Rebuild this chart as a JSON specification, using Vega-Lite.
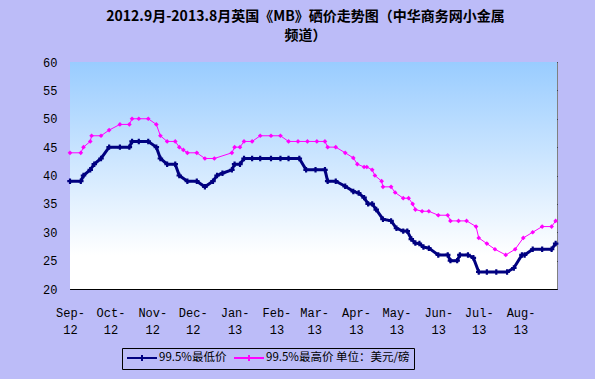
{
  "$schema": "https://vega.github.io/schema/vega-lite/v6.json",
  "width": 487,
  "height": 227,
  "autosize": "none",
  "padding": {"left": 70, "top": 62, "right": 38, "bottom": 90},
  "background": "#BCBCF8",
  "title": {
    "text": ["2012.9月-2013.8月英国《MB》硒价走势图（中华商务网小金属", "频道）"],
    "font": "Noto Sans CJK SC",
    "fontSize": 14,
    "fontWeight": "bold",
    "color": "black",
    "anchor": "middle",
    "frame": "group",
    "dx": -8,
    "offset": 13,
    "lineHeight": 19
  },
  "config": {
    "view": {"stroke": "#808080", "strokeWidth": 1},
    "axis": {"labelColor": "black", "domainColor": "black", "tickColor": "black", "labelFont": "Liberation Mono", "labelFontSize": 12, "title": null},
    "axisY": {"ticks": false, "grid": true, "gridColor": "black", "gridOpacity": 1, "gridWidth": 1, "labelPadding": 13}
  },
  "data": {
    "values": [
      {"date": "2012-09-01", "series": "99.5%最低价", "price": 39},
      {"date": "2012-09-09", "series": "99.5%最低价", "price": 39},
      {"date": "2012-09-11", "series": "99.5%最低价", "price": 40},
      {"date": "2012-09-16", "series": "99.5%最低价", "price": 41},
      {"date": "2012-09-19", "series": "99.5%最低价", "price": 42},
      {"date": "2012-09-24", "series": "99.5%最低价", "price": 43},
      {"date": "2012-09-30", "series": "99.5%最低价", "price": 45},
      {"date": "2012-10-08", "series": "99.5%最低价", "price": 45},
      {"date": "2012-10-15", "series": "99.5%最低价", "price": 45},
      {"date": "2012-10-17", "series": "99.5%最低价", "price": 46},
      {"date": "2012-10-22", "series": "99.5%最低价", "price": 46},
      {"date": "2012-10-29", "series": "99.5%最低价", "price": 46},
      {"date": "2012-11-04", "series": "99.5%最低价", "price": 45},
      {"date": "2012-11-07", "series": "99.5%最低价", "price": 43},
      {"date": "2012-11-12", "series": "99.5%最低价", "price": 42},
      {"date": "2012-11-18", "series": "99.5%最低价", "price": 42},
      {"date": "2012-11-21", "series": "99.5%最低价", "price": 40},
      {"date": "2012-11-27", "series": "99.5%最低价", "price": 39},
      {"date": "2012-12-04", "series": "99.5%最低价", "price": 39},
      {"date": "2012-12-10", "series": "99.5%最低价", "price": 38},
      {"date": "2012-12-16", "series": "99.5%最低价", "price": 39},
      {"date": "2012-12-19", "series": "99.5%最低价", "price": 40},
      {"date": "2012-12-23", "series": "99.5%最低价", "price": 40.4},
      {"date": "2012-12-30", "series": "99.5%最低价", "price": 41},
      {"date": "2013-01-01", "series": "99.5%最低价", "price": 42},
      {"date": "2013-01-05", "series": "99.5%最低价", "price": 42},
      {"date": "2013-01-08", "series": "99.5%最低价", "price": 43},
      {"date": "2013-01-14", "series": "99.5%最低价", "price": 43},
      {"date": "2013-01-20", "series": "99.5%最低价", "price": 43},
      {"date": "2013-01-28", "series": "99.5%最低价", "price": 43},
      {"date": "2013-02-04", "series": "99.5%最低价", "price": 43},
      {"date": "2013-02-10", "series": "99.5%最低价", "price": 43},
      {"date": "2013-02-18", "series": "99.5%最低价", "price": 43},
      {"date": "2013-02-23", "series": "99.5%最低价", "price": 41},
      {"date": "2013-03-02", "series": "99.5%最低价", "price": 41},
      {"date": "2013-03-09", "series": "99.5%最低价", "price": 41},
      {"date": "2013-03-11", "series": "99.5%最低价", "price": 39},
      {"date": "2013-03-17", "series": "99.5%最低价", "price": 39},
      {"date": "2013-03-24", "series": "99.5%最低价", "price": 38.1},
      {"date": "2013-03-30", "series": "99.5%最低价", "price": 37.2},
      {"date": "2013-04-03", "series": "99.5%最低价", "price": 36.9},
      {"date": "2013-04-07", "series": "99.5%最低价", "price": 36.1},
      {"date": "2013-04-10", "series": "99.5%最低价", "price": 35},
      {"date": "2013-04-13", "series": "99.5%最低价", "price": 35},
      {"date": "2013-04-16", "series": "99.5%最低价", "price": 34},
      {"date": "2013-04-21", "series": "99.5%最低价", "price": 32.3},
      {"date": "2013-04-27", "series": "99.5%最低价", "price": 32},
      {"date": "2013-05-01", "series": "99.5%最低价", "price": 30.7},
      {"date": "2013-05-06", "series": "99.5%最低价", "price": 30.2},
      {"date": "2013-05-09", "series": "99.5%最低价", "price": 30.2},
      {"date": "2013-05-12", "series": "99.5%最低价", "price": 28.8},
      {"date": "2013-05-15", "series": "99.5%最低价", "price": 28.1},
      {"date": "2013-05-18", "series": "99.5%最低价", "price": 28},
      {"date": "2013-05-21", "series": "99.5%最低价", "price": 27.4},
      {"date": "2013-05-25", "series": "99.5%最低价", "price": 27.2},
      {"date": "2013-06-01", "series": "99.5%最低价", "price": 26},
      {"date": "2013-06-08", "series": "99.5%最低价", "price": 26},
      {"date": "2013-06-10", "series": "99.5%最低价", "price": 25},
      {"date": "2013-06-15", "series": "99.5%最低价", "price": 25},
      {"date": "2013-06-17", "series": "99.5%最低价", "price": 26},
      {"date": "2013-06-23", "series": "99.5%最低价", "price": 26},
      {"date": "2013-06-27", "series": "99.5%最低价", "price": 25.5},
      {"date": "2013-07-01", "series": "99.5%最低价", "price": 23},
      {"date": "2013-07-07", "series": "99.5%最低价", "price": 23},
      {"date": "2013-07-14", "series": "99.5%最低价", "price": 23},
      {"date": "2013-07-22", "series": "99.5%最低价", "price": 23},
      {"date": "2013-07-27", "series": "99.5%最低价", "price": 23.7},
      {"date": "2013-08-02", "series": "99.5%最低价", "price": 26},
      {"date": "2013-08-04", "series": "99.5%最低价", "price": 26},
      {"date": "2013-08-10", "series": "99.5%最低价", "price": 27},
      {"date": "2013-08-17", "series": "99.5%最低价", "price": 27},
      {"date": "2013-08-24", "series": "99.5%最低价", "price": 27},
      {"date": "2013-08-27", "series": "99.5%最低价", "price": 28},
      {"date": "2012-09-01", "series": "99.5%最高价 单位：美元/磅", "price": 44},
      {"date": "2012-09-09", "series": "99.5%最高价 单位：美元/磅", "price": 44},
      {"date": "2012-09-11", "series": "99.5%最高价 单位：美元/磅", "price": 45},
      {"date": "2012-09-16", "series": "99.5%最高价 单位：美元/磅", "price": 46},
      {"date": "2012-09-17", "series": "99.5%最高价 单位：美元/磅", "price": 47},
      {"date": "2012-09-24", "series": "99.5%最高价 单位：美元/磅", "price": 47},
      {"date": "2012-09-30", "series": "99.5%最高价 单位：美元/磅", "price": 48},
      {"date": "2012-10-08", "series": "99.5%最高价 单位：美元/磅", "price": 49},
      {"date": "2012-10-15", "series": "99.5%最高价 单位：美元/磅", "price": 49},
      {"date": "2012-10-17", "series": "99.5%最高价 单位：美元/磅", "price": 50},
      {"date": "2012-10-22", "series": "99.5%最高价 单位：美元/磅", "price": 50},
      {"date": "2012-10-29", "series": "99.5%最高价 单位：美元/磅", "price": 50},
      {"date": "2012-11-04", "series": "99.5%最高价 单位：美元/磅", "price": 49},
      {"date": "2012-11-07", "series": "99.5%最高价 单位：美元/磅", "price": 47},
      {"date": "2012-11-12", "series": "99.5%最高价 单位：美元/磅", "price": 46},
      {"date": "2012-11-18", "series": "99.5%最高价 单位：美元/磅", "price": 46},
      {"date": "2012-11-21", "series": "99.5%最高价 单位：美元/磅", "price": 45},
      {"date": "2012-11-24", "series": "99.5%最高价 单位：美元/磅", "price": 44.5},
      {"date": "2012-11-27", "series": "99.5%最高价 单位：美元/磅", "price": 44},
      {"date": "2012-12-04", "series": "99.5%最高价 单位：美元/磅", "price": 44},
      {"date": "2012-12-10", "series": "99.5%最高价 单位：美元/磅", "price": 43},
      {"date": "2012-12-17", "series": "99.5%最高价 单位：美元/磅", "price": 43},
      {"date": "2012-12-30", "series": "99.5%最高价 单位：美元/磅", "price": 44},
      {"date": "2013-01-01", "series": "99.5%最高价 单位：美元/磅", "price": 45},
      {"date": "2013-01-05", "series": "99.5%最高价 单位：美元/磅", "price": 45},
      {"date": "2013-01-08", "series": "99.5%最高价 单位：美元/磅", "price": 46},
      {"date": "2013-01-14", "series": "99.5%最高价 单位：美元/磅", "price": 46},
      {"date": "2013-01-20", "series": "99.5%最高价 单位：美元/磅", "price": 47},
      {"date": "2013-01-28", "series": "99.5%最高价 单位：美元/磅", "price": 47},
      {"date": "2013-02-04", "series": "99.5%最高价 单位：美元/磅", "price": 47},
      {"date": "2013-02-10", "series": "99.5%最高价 单位：美元/磅", "price": 46},
      {"date": "2013-02-17", "series": "99.5%最高价 单位：美元/磅", "price": 46},
      {"date": "2013-02-24", "series": "99.5%最高价 单位：美元/磅", "price": 46},
      {"date": "2013-03-03", "series": "99.5%最高价 单位：美元/磅", "price": 46},
      {"date": "2013-03-09", "series": "99.5%最高价 单位：美元/磅", "price": 46},
      {"date": "2013-03-11", "series": "99.5%最高价 单位：美元/磅", "price": 45},
      {"date": "2013-03-17", "series": "99.5%最高价 单位：美元/磅", "price": 45},
      {"date": "2013-03-24", "series": "99.5%最高价 单位：美元/磅", "price": 44},
      {"date": "2013-03-30", "series": "99.5%最高价 单位：美元/磅", "price": 43.1},
      {"date": "2013-04-02", "series": "99.5%最高价 单位：美元/磅", "price": 42},
      {"date": "2013-04-07", "series": "99.5%最高价 单位：美元/磅", "price": 41.5},
      {"date": "2013-04-09", "series": "99.5%最高价 单位：美元/磅", "price": 41.5},
      {"date": "2013-04-13", "series": "99.5%最高价 单位：美元/磅", "price": 41},
      {"date": "2013-04-15", "series": "99.5%最高价 单位：美元/磅", "price": 40},
      {"date": "2013-04-20", "series": "99.5%最高价 单位：美元/磅", "price": 39},
      {"date": "2013-04-21", "series": "99.5%最高价 单位：美元/磅", "price": 38},
      {"date": "2013-04-27", "series": "99.5%最高价 单位：美元/磅", "price": 38},
      {"date": "2013-04-30", "series": "99.5%最高价 单位：美元/磅", "price": 37},
      {"date": "2013-05-06", "series": "99.5%最高价 单位：美元/磅", "price": 36},
      {"date": "2013-05-10", "series": "99.5%最高价 单位：美元/磅", "price": 36},
      {"date": "2013-05-13", "series": "99.5%最高价 单位：美元/磅", "price": 35},
      {"date": "2013-05-15", "series": "99.5%最高价 单位：美元/磅", "price": 34},
      {"date": "2013-05-20", "series": "99.5%最高价 单位：美元/磅", "price": 33.7},
      {"date": "2013-05-25", "series": "99.5%最高价 单位：美元/磅", "price": 33.7},
      {"date": "2013-06-01", "series": "99.5%最高价 单位：美元/磅", "price": 33},
      {"date": "2013-06-08", "series": "99.5%最高价 单位：美元/磅", "price": 33},
      {"date": "2013-06-10", "series": "99.5%最高价 单位：美元/磅", "price": 32},
      {"date": "2013-06-16", "series": "99.5%最高价 单位：美元/磅", "price": 32},
      {"date": "2013-06-22", "series": "99.5%最高价 单位：美元/磅", "price": 32},
      {"date": "2013-06-29", "series": "99.5%最高价 单位：美元/磅", "price": 31},
      {"date": "2013-07-01", "series": "99.5%最高价 单位：美元/磅", "price": 29},
      {"date": "2013-07-07", "series": "99.5%最高价 单位：美元/磅", "price": 28},
      {"date": "2013-07-13", "series": "99.5%最高价 单位：美元/磅", "price": 27},
      {"date": "2013-07-21", "series": "99.5%最高价 单位：美元/磅", "price": 26},
      {"date": "2013-07-28", "series": "99.5%最高价 单位：美元/磅", "price": 27},
      {"date": "2013-08-03", "series": "99.5%最高价 单位：美元/磅", "price": 29},
      {"date": "2013-08-10", "series": "99.5%最高价 单位：美元/磅", "price": 30},
      {"date": "2013-08-17", "series": "99.5%最高价 单位：美元/磅", "price": 31},
      {"date": "2013-08-24", "series": "99.5%最高价 单位：美元/磅", "price": 31},
      {"date": "2013-08-27", "series": "99.5%最高价 单位：美元/磅", "price": 32}
    ]
  },
  "layer": [
    {
      "data": {"values": [{"k": 1}]},
      "mark": {
        "type": "rect",
        "fill": {"gradient": "linear", "x1": 0, "y1": 0, "x2": 0, "y2": 1, "stops": [{"offset": 0, "color": "#99CCFF"}, {"offset": 0.85, "color": "#FFFFFF"}, {"offset": 1, "color": "#FFFFFF"}]}
      },
      "encoding": {
        "x": {
          "datum": {"year": 2012, "month": 9, "date": 1, "utc": true},
          "type": "temporal",
          "scale": {"type": "utc", "domain": [{"year": 2012, "month": 9, "date": 1, "utc": true}, {"year": 2013, "month": 8, "date": 28, "utc": true}]},
          "axis": {
            "tickCount": {"interval": "month", "step": 1},
            "labelExpr": "[utcFormat(datum.value, '%b-'), utcFormat(datum.value, '%y')]",
            "labelAlign": "center",
            "labelBaseline": "top",
            "labelLineHeight": 17,
            "labelPadding": 22,
            "tickSize": -4,
            "grid": false,
            "labelOverlap": false,
            "labelFlush": false
          }
        },
        "x2": {"datum": {"year": 2013, "month": 8, "date": 28, "utc": true}},
        "y": {
          "datum": 60,
          "type": "quantitative",
          "scale": {"domain": [20, 60], "nice": false, "zero": false},
          "axis": {"values": [20, 25, 30, 35, 40, 45, 50, 55, 60], "labelOverlap": false}
        },
        "y2": {"datum": 20}
      }
    },
    {
      "transform": [{"filter": "datum.series === '99.5%最高价 单位：美元/磅'"}],
      "mark": {"type": "line", "strokeWidth": 1},
      "encoding": {
        "x": {"field": "date", "type": "temporal"},
        "y": {"field": "price", "type": "quantitative", "axis": {"values": [20, 25, 30, 35, 40, 45, 50, 55, 60], "labelOverlap": false}},
        "color": {
          "field": "series",
          "type": "nominal",
          "scale": {"domain": ["99.5%最低价", "99.5%最高价 单位：美元/磅"], "range": ["#000080", "#FF00FF"]},
          "legend": {
            "title": null,
            "orient": "none",
            "legendX": 52,
            "legendY": 286,
            "direction": "horizontal",
            "strokeColor": "black",
            "padding": 4,
            "symbolType": "M-1,0H5M2,-0.6V0.6",
            "symbolSize": 100,
            "symbolStrokeWidth": 2,
            "labelOffset": 21,
            "columnPadding": 3,
            "labelFont": "Noto Sans CJK SC",
            "labelFontSize": 11.5,
            "labelColor": "black",
            "labelLimit": 300
          }
        }
      }
    },
    {
      "transform": [{"filter": "datum.series === '99.5%最高价 单位：美元/磅'"}],
      "mark": {"type": "point", "shape": "diamond", "filled": true, "size": 22, "opacity": 1},
      "encoding": {
        "x": {"field": "date", "type": "temporal"},
        "y": {"field": "price", "type": "quantitative", "axis": {"values": [20, 25, 30, 35, 40, 45, 50, 55, 60], "labelOverlap": false}},
        "color": {"field": "series", "type": "nominal"}
      }
    },
    {
      "transform": [{"filter": "datum.series === '99.5%最低价'"}],
      "mark": {"type": "line", "strokeWidth": 3},
      "encoding": {
        "x": {"field": "date", "type": "temporal"},
        "y": {"field": "price", "type": "quantitative", "axis": {"values": [20, 25, 30, 35, 40, 45, 50, 55, 60], "labelOverlap": false}},
        "color": {"field": "series", "type": "nominal"}
      }
    },
    {
      "transform": [{"filter": "datum.series === '99.5%最低价'"}],
      "mark": {"type": "point", "shape": "cross", "filled": true, "size": 30, "opacity": 1},
      "encoding": {
        "x": {"field": "date", "type": "temporal"},
        "y": {"field": "price", "type": "quantitative", "axis": {"values": [20, 25, 30, 35, 40, 45, 50, 55, 60], "labelOverlap": false}},
        "color": {"field": "series", "type": "nominal"}
      }
    }
  ]
}
